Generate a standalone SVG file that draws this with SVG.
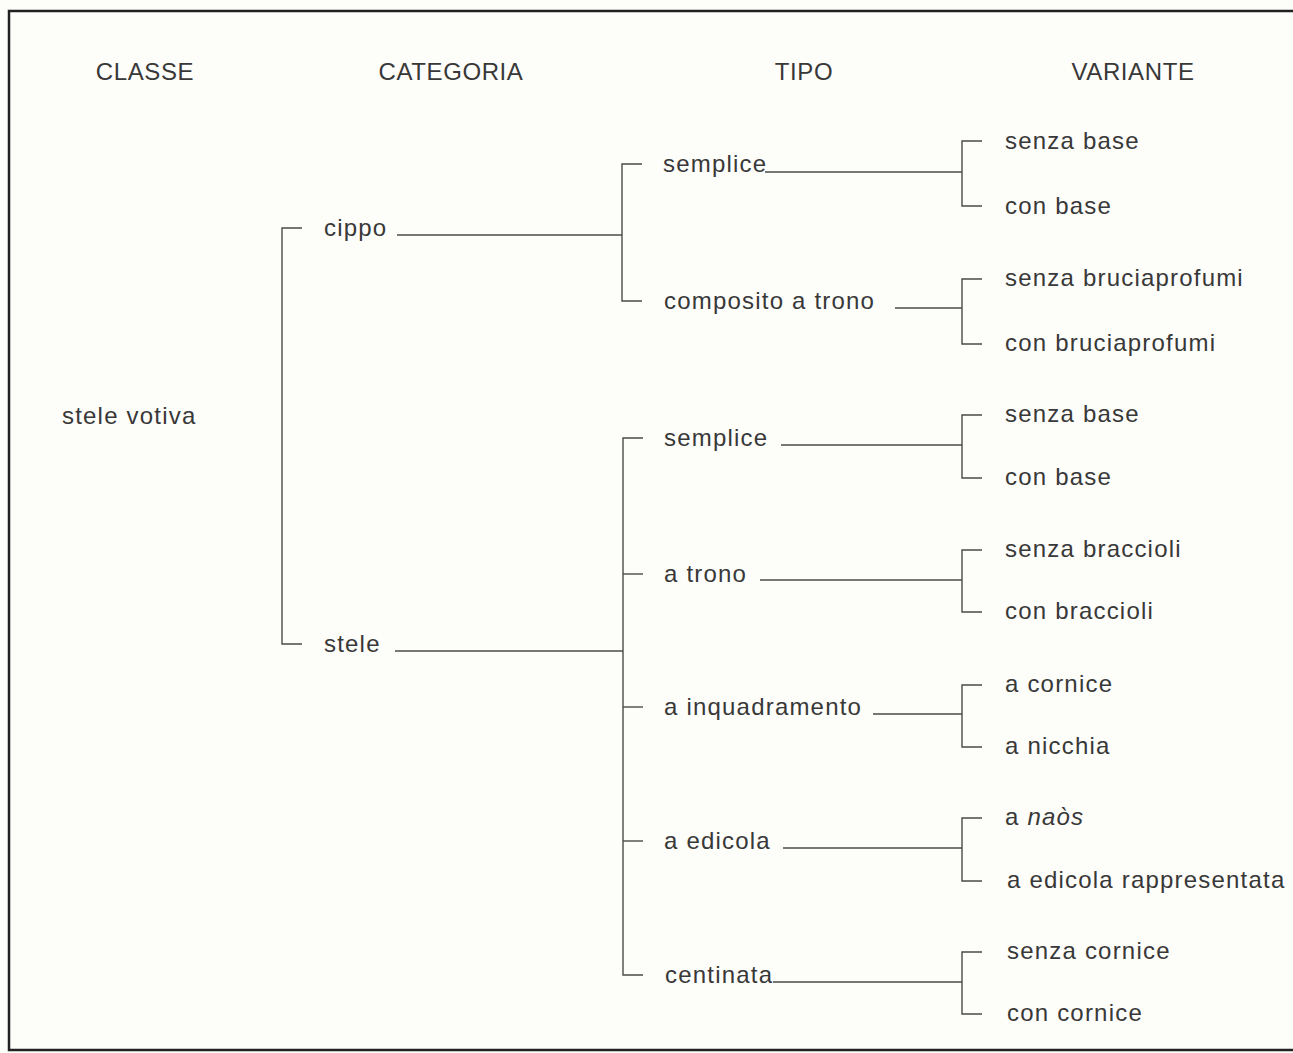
<svg xmlns="http://www.w3.org/2000/svg" width="1293" height="1053" viewBox="0 0 1293 1053">
<style>
text{font-family:"Liberation Sans",Arial,sans-serif;font-size:24px;fill:#383838;letter-spacing:1.2px}
.h{text-anchor:middle;letter-spacing:0.6px}
.c line,.c path{stroke:#4a4a4a;stroke-width:1.4;fill:none}
</style>
<rect width="1293" height="1053" fill="#fdfdfa"/>
<path d="M1293,11 H9 V1050 H1293" fill="none" stroke="#222" stroke-width="2.5"/>
<g id="headers">
<text class="h" x="145" y="80">CLASSE</text>
<text class="h" x="451" y="80">CATEGORIA</text>
<text class="h" x="804" y="80">TIPO</text>
<text class="h" x="1133" y="80">VARIANTE</text>
</g>
<g id="classe"><text x="62" y="424">stele votiva</text></g>
<g id="cat-cippo"><text x="324" y="236">cippo</text></g>
<g id="cat-stele"><text x="324" y="652">stele</text></g>
<g id="tipo-cippo-semplice"><text x="663" y="172">semplice</text></g>
<g id="tipo-composito"><text x="664" y="309">composito a trono</text></g>
<g id="tipo-stele-semplice"><text x="664" y="446">semplice</text></g>
<g id="tipo-a-trono"><text x="664" y="582">a trono</text></g>
<g id="tipo-a-inquadramento"><text x="664" y="715">a inquadramento</text></g>
<g id="tipo-a-edicola"><text x="664" y="849">a edicola</text></g>
<g id="tipo-centinata"><text x="665" y="983">centinata</text></g>
<g id="var-1"><text x="1005" y="149">senza base</text></g>
<g id="var-2"><text x="1005" y="214">con base</text></g>
<g id="var-3"><text x="1005" y="286">senza bruciaprofumi</text></g>
<g id="var-4"><text x="1005" y="351">con bruciaprofumi</text></g>
<g id="var-5"><text x="1005" y="422">senza base</text></g>
<g id="var-6"><text x="1005" y="485">con base</text></g>
<g id="var-7"><text x="1005" y="557">senza braccioli</text></g>
<g id="var-8"><text x="1005" y="619">con braccioli</text></g>
<g id="var-9"><text x="1005" y="692">a cornice</text></g>
<g id="var-10"><text x="1005" y="754">a nicchia</text></g>
<g id="var-11"><text x="1005" y="825">a <tspan font-style="italic">naòs</tspan></text></g>
<g id="var-12"><text x="1007" y="888">a edicola rappresentata</text></g>
<g id="var-13"><text x="1007" y="959">senza cornice</text></g>
<g id="var-14"><text x="1007" y="1021">con cornice</text></g>
<g id="connectors" class="c">
<path d="M302,228 H282 V644 H302"/>
<line x1="397" y1="235" x2="622" y2="235"/>
<line x1="395" y1="651" x2="623" y2="651"/>
<path d="M642,164 H622 V301 H642"/>
<path d="M643,438 H623 V975 H643"/>
<line x1="623" y1="574" x2="643" y2="574"/>
<line x1="623" y1="707" x2="643" y2="707"/>
<line x1="623" y1="841" x2="643" y2="841"/>
<line x1="765" y1="172" x2="962" y2="172"/>
<line x1="895" y1="308" x2="962" y2="308"/>
<line x1="781" y1="445" x2="962" y2="445"/>
<line x1="760" y1="580" x2="962" y2="580"/>
<line x1="873" y1="714" x2="962" y2="714"/>
<line x1="783" y1="848" x2="962" y2="848"/>
<line x1="773" y1="982" x2="962" y2="982"/>
<path d="M982,141 H962 V206 H982"/>
<path d="M982,279 H962 V344 H982"/>
<path d="M982,415 H962 V478 H982"/>
<path d="M982,550 H962 V612 H982"/>
<path d="M982,685 H962 V747 H982"/>
<path d="M982,818 H962 V881 H982"/>
<path d="M982,952 H962 V1014 H982"/>
</g>
</svg>
